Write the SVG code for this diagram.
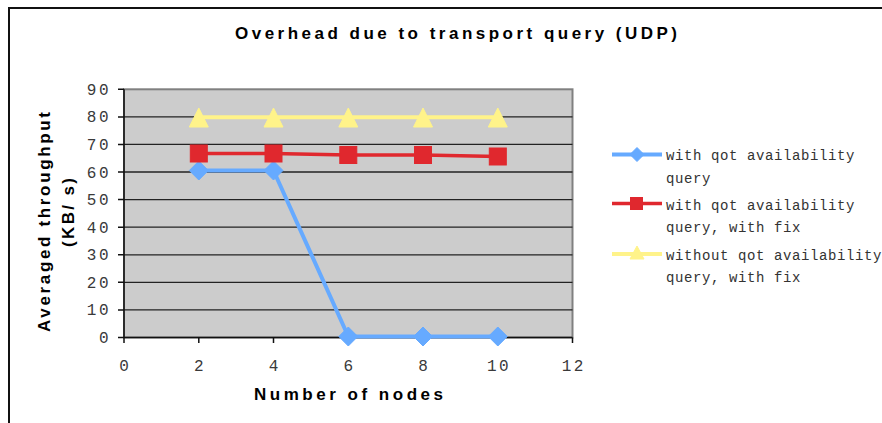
<svg xmlns="http://www.w3.org/2000/svg" width="882" height="423" viewBox="0 0 882 423">
  <style>
    .title { font-family: "Liberation Sans", Arial, sans-serif; font-weight: bold; font-size: 17px; fill: #000; }
    .tick { font-family: "Liberation Mono", "Courier New", monospace; font-size: 16px; fill: #3a3a3a; letter-spacing: 2.5px; }
    .legend { font-family: "Liberation Mono", "Courier New", monospace; font-size: 14px; fill: #333; letter-spacing: 0.6px; }
    .grid { stroke: #222; stroke-width: 1.3; }
    .axis { stroke: #111; stroke-width: 1.5; fill: none; }
    .blue { stroke: #66AAFF; fill: #66AAFF; }
    .red { stroke: #E0282E; fill: #E0282E; }
    .yellow { stroke: #FFF38A; fill: #FFF38A; }
  </style>
  <defs>
    <path id="diamond" d="M0,-9.5 L9.5,0 L0,9.5 L-9.5,0 Z"/>
    <rect id="square" x="-8.5" y="-8.5" width="17" height="17"/>
    <path id="triangle" d="M0,-9.5 L9.5,9.5 L-9.5,9.5 Z"/>
  </defs>

  <rect width="882" height="423" fill="#fff"/>
  <!-- chart frame (top and left edges) -->
  <path d="M9,423 V8 H882" fill="none" stroke="#111" stroke-width="2"/>

  <!-- title -->
  <text class="title" x="456" y="39" text-anchor="middle" textLength="442" lengthAdjust="spacing">Overhead due to transport query (UDP)</text>

  <!-- plot area -->
  <g id="plot-area">
    <rect x="124" y="89.3" width="448.5" height="248.2" fill="#CCCCCC" stroke="#808080" stroke-width="2"/>
    <g class="grid">
      <line x1="124" y1="309.9" x2="572.5" y2="309.9"/>
      <line x1="124" y1="282.3" x2="572.5" y2="282.3"/>
      <line x1="124" y1="254.8" x2="572.5" y2="254.8"/>
      <line x1="124" y1="227.2" x2="572.5" y2="227.2"/>
      <line x1="124" y1="199.6" x2="572.5" y2="199.6"/>
      <line x1="124" y1="172.0" x2="572.5" y2="172.0"/>
      <line x1="124" y1="144.4" x2="572.5" y2="144.4"/>
      <line x1="124" y1="116.9" x2="572.5" y2="116.9"/>
    </g>
  </g>

  <!-- axes and tick marks -->
  <g id="axes" class="axis">
    <line x1="124" y1="89.3" x2="124" y2="343"/>
    <line x1="118" y1="337.5" x2="572.5" y2="337.5"/>
    <path d="M118,309.9 H124 M118,282.3 H124 M118,254.8 H124 M118,227.2 H124 M118,199.6 H124 M118,172 H124 M118,144.4 H124 M118,116.9 H124 M118,89.3 H124"/>
    <path d="M198.8,337.5 V343 M273.5,337.5 V343 M348.3,337.5 V343 M423,337.5 V343 M497.8,337.5 V343 M572.5,337.5 V343"/>
  </g>

  <!-- y tick labels -->
  <g id="y-labels" class="tick" text-anchor="end">
    <text x="111" y="343">0</text>
    <text x="111" y="315.4">10</text>
    <text x="111" y="287.8">20</text>
    <text x="111" y="260.3">30</text>
    <text x="111" y="232.7">40</text>
    <text x="111" y="205.1">50</text>
    <text x="111" y="177.5">60</text>
    <text x="111" y="149.9">70</text>
    <text x="111" y="122.4">80</text>
    <text x="111" y="94.8">90</text>
  </g>

  <!-- x tick labels -->
  <g id="x-labels" class="tick" text-anchor="middle">
    <text x="125.3" y="370.5">0</text>
    <text x="200" y="370.5">2</text>
    <text x="274.8" y="370.5">4</text>
    <text x="349.5" y="370.5">6</text>
    <text x="424.3" y="370.5">8</text>
    <text x="499" y="370.5">10</text>
    <text x="573.8" y="370.5">12</text>
  </g>

  <!-- axis titles -->
  <text class="title" x="348.5" y="400" text-anchor="middle" textLength="189" lengthAdjust="spacing">Number of nodes</text>
  <g transform="rotate(-90)">
    <text class="title" x="-222" y="50" text-anchor="middle" textLength="220" lengthAdjust="spacing">Averaged throughput</text>
    <text class="title" x="-212.5" y="74" text-anchor="middle" textLength="69" lengthAdjust="spacing">(KB/ s)</text>
  </g>

  <!-- data series -->
  <g id="series-with-query">
    <polyline class="blue" stroke-width="4" stroke-linejoin="round" points="198.8,170.5 273.5,170.5 348.3,336.5 423,336.5 497.8,336.5" style="fill:none"/>
    <g class="blue" stroke="none">
      <use href="#diamond" x="198.8" y="170.5"/>
      <use href="#diamond" x="273.5" y="170.5"/>
      <use href="#diamond" x="348.3" y="336.5"/>
      <use href="#diamond" x="423" y="336.5"/>
      <use href="#diamond" x="497.8" y="336.5"/>
    </g>
  </g>
  <g id="series-with-query-fix">
    <polyline class="red" stroke-width="3.5" points="198.8,153.5 273.5,153.5 348.3,155 423,155 497.8,156.5" style="fill:none"/>
    <g class="red" stroke="none">
      <use href="#square" x="198.8" y="153.5"/>
      <use href="#square" x="273.5" y="153.5"/>
      <use href="#square" x="348.3" y="155"/>
      <use href="#square" x="423" y="155"/>
      <use href="#square" x="497.8" y="156.5"/>
    </g>
  </g>
  <g id="series-without-query-fix">
    <polyline class="yellow" stroke-width="4" points="198.8,117.3 273.5,117.3 348.3,117.3 423,117.3 497.8,117.3" style="fill:none"/>
    <g class="yellow" stroke="none">
      <use href="#triangle" x="198.8" y="117.5"/>
      <use href="#triangle" x="273.5" y="117.5"/>
      <use href="#triangle" x="348.3" y="117.5"/>
      <use href="#triangle" x="423" y="117.5"/>
      <use href="#triangle" x="497.8" y="117.5"/>
    </g>
  </g>

  <!-- legend -->
  <g id="legend">
    <g id="legend-blue">
      <line class="blue" x1="612" y1="154.5" x2="662" y2="154.5" stroke-width="4"/>
      <path class="blue" stroke="none" d="M637,147.5 L644,154.5 L637,161.5 L630,154.5 Z"/>
      <text class="legend" x="666" y="160">with qot availability</text>
      <text class="legend" x="666" y="183">query</text>
    </g>
    <g id="legend-red">
      <line class="red" x1="612" y1="203.5" x2="662" y2="203.5" stroke-width="3.5"/>
      <rect class="red" stroke="none" x="630.5" y="197.5" width="12" height="12"/>
      <text class="legend" x="666" y="210">with qot availability</text>
      <text class="legend" x="666" y="232">query, with fix</text>
    </g>
    <g id="legend-yellow">
      <line class="yellow" x1="612" y1="254" x2="662" y2="254" stroke-width="4"/>
      <path class="yellow" stroke="none" d="M637,246 L644,259 L630,259 Z"/>
      <text class="legend" x="666" y="260">without qot availability</text>
      <text class="legend" x="666" y="282">query, with fix</text>
    </g>
  </g>
</svg>
